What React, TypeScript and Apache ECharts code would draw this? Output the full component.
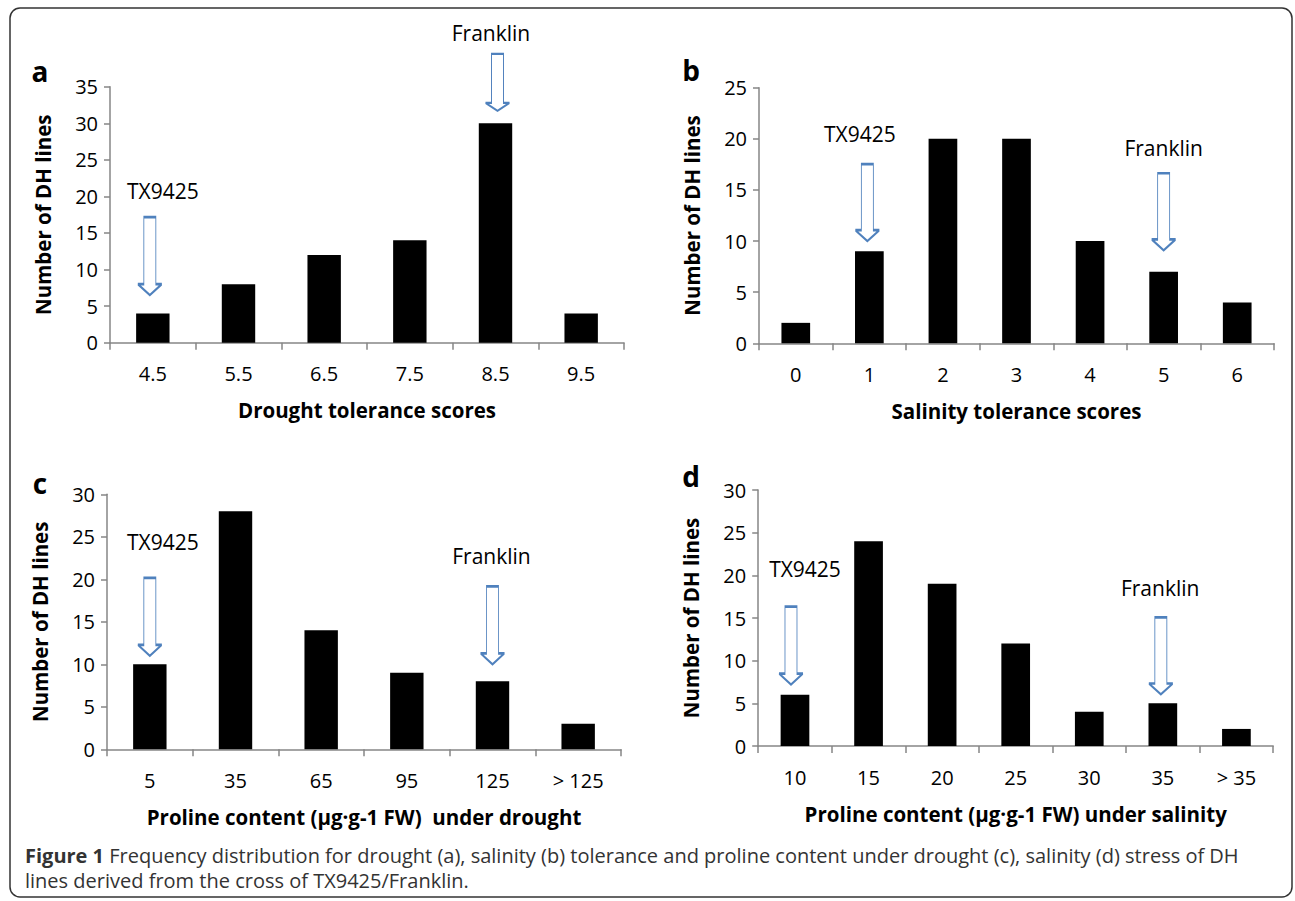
import React, { useEffect, useRef } from "react";
import * as echarts from "echarts";

const FONT = "'Open Sans', Lato, sans-serif";

// ---- Data ----
const catsA = ["4.5", "5.5", "6.5", "7.5", "8.5", "9.5"];
const valsA = [4, 8, 12, 14, 30, 4];
const catsB = ["0", "1", "2", "3", "4", "5", "6"];
const valsB = [2, 9, 20, 20, 10, 7, 4];
const catsC = ["5", "35", "65", "95", "125", "> 125"];
const valsC = [10, 28, 14, 9, 8, 3];
const catsD = ["10", "15", "20", "25", "30", "35", "> 35"];
const valsD = [6, 24, 19, 12, 4, 5, 2];

const yMaxes = [35, 25, 30, 30];
const xTitles = [
  "Drought tolerance scores",
  "Salinity tolerance scores",
  "Proline content (µg·g-1 FW)  under drought",
  "Proline content (µg·g-1 FW) under salinity",
];
const yTitle = "Number of DH lines";
const panelLetters = ["a", "b", "c", "d"];

// Annotation arrows: [category index, value at arrow tip]
const arrowNames = ["TX9425", "Franklin"];
const arrowIdxA = [0, 4];
const arrowTipA = [6.5, 31.7];
const arrowIdxB = [1, 5];
const arrowTipB = [10.0, 9.1];
const arrowIdxC = [0, 4];
const arrowTipC = [11.0, 10.0];
const arrowIdxD = [0, 5];
const arrowTipD = [7.2, 6.05];

const caption1 =
  " Frequency distribution for drought (a), salinity (b) tolerance and proline content under drought (c), salinity (d) stress of DH";
const caption2 = "lines derived from the cross of TX9425/Franklin.";

// ---- Layout (styles/positions) ----
const grids = [
  { left: 110, top: 86.7, width: 514, height: 256 },
  { left: 759, top: 87.7, width: 515, height: 255.6 },
  { left: 107, top: 494.3, width: 514, height: 255 },
  { left: 758.2, top: 490, width: 515, height: 256 },
];
const arrowLen = [
  [78, 57],
  [77, 77],
  [78, 78],
  [78, 77],
];
const arrowDx = [
  [-3, 2],
  [-2, 0],
  [0, 0],
  [-4, -2],
];
const labelGap = [
  [25, 20],
  [29, 24],
  [34, 29],
  [36, 28],
];
const labelDx = [
  [10, -4.5],
  [-9.5, 0],
  [13, -1],
  [10, -2.7],
];
const letterPos = [
  [40, 71],
  [691, 70],
  [40, 483],
  [691, 476],
];

const ARROW_PATH = "path://M6,0 L18,0 L18,67 L24,67 L12,78 L0,67 L6,67 Z";
const AXIS_COLOR = "#868686";
const TICK_FS = 20;
const TITLE_FS = 20.5;
const NOTE_FS = 21;
const CAP_FS = 20;

export default function App() {
  const ref = useRef<HTMLDivElement>(null);

  useEffect(() => {
    if (!ref.current) return;
    const chart = echarts.init(ref.current, null, { renderer: "svg" });

    const cats = [catsA, catsB, catsC, catsD];
    const vals = [valsA, valsB, valsC, valsD];
    const aIdx = [arrowIdxA, arrowIdxB, arrowIdxC, arrowIdxD];
    const aTip = [arrowTipA, arrowTipB, arrowTipC, arrowTipD];

    const option: any = {
      animation: false,
      backgroundColor: "#fff",
      grid: grids.map((g) => ({ ...g, containLabel: false })),
      xAxis: cats.map((c, i) => ({
        type: "category",
        gridIndex: i,
        data: c,
        name: xTitles[i],
        nameLocation: "middle",
        nameGap: 57,
        nameTextStyle: { fontFamily: FONT, fontWeight: "bold", fontSize: TITLE_FS, color: "#000" },
        axisLine: { show: true, lineStyle: { color: AXIS_COLOR, width: 1.5 } },
        axisTick: { show: true, length: 7, lineStyle: { color: AXIS_COLOR, width: 1.5 } },
        axisLabel: { margin: 21, fontSize: TICK_FS, color: "#000", fontFamily: FONT, interval: 0 },
        splitLine: { show: false },
      })),
      yAxis: yMaxes.map((m, i) => ({
        type: "value",
        gridIndex: i,
        min: 0,
        max: m,
        interval: 5,
        name: yTitle,
        nameLocation: "middle",
        nameGap: 57,
        nameTextStyle: { fontFamily: FONT, fontWeight: "bold", fontSize: TITLE_FS, color: "#000" },
        axisLine: { show: true, lineStyle: { color: AXIS_COLOR, width: 1.5 } },
        axisTick: { show: true, length: 6, lineStyle: { color: AXIS_COLOR, width: 1.5 } },
        axisLabel: { margin: 12, fontSize: TICK_FS, color: "#000", fontFamily: FONT },
        splitLine: { show: false },
      })),
      series: vals.map((v, i) => ({
        type: "bar",
        xAxisIndex: i,
        yAxisIndex: i,
        data: v,
        barWidth: "39%",
        silent: true,
        itemStyle: { color: "#000" },
        markPoint: {
          silent: true,
          data: aIdx[i].map((ci, k) => ({
            name: arrowNames[k],
            coord: [ci, aTip[i][k]],
            symbol: ARROW_PATH,
            symbolKeepAspect: false,
            symbolSize: [24, arrowLen[i][k]],
            symbolOffset: [arrowDx[i][k], -arrowLen[i][k] / 2],
            itemStyle: { color: "#fff", borderColor: "#4F81BD", borderWidth: 1.5 },
            label: {
              show: true,
              position: "top",
              distance: 0,
              offset: [labelDx[i][k] - arrowDx[i][k], -(labelGap[i][k] - 10.5)],
              formatter: arrowNames[k],
              color: "#000",
              fontSize: NOTE_FS,
              fontFamily: FONT,
            },
          })),
        },
      })),
      graphic: [
        {
          type: "rect",
          shape: { x: 10, y: 8, width: 1282, height: 889, r: 10 },
          style: { fill: "none", stroke: "#333", lineWidth: 1.5 },
          silent: true,
        },
        ...panelLetters.map((l, i) => ({
          type: "text",
          x: letterPos[i][0],
          y: letterPos[i][1],
          style: {
            text: l,
            fontFamily: FONT,
            fontWeight: "bold",
            fontSize: 28,
            fill: "#000",
            align: "center",
            verticalAlign: "middle",
          },
          silent: true,
        })),
        {
          type: "text",
          x: 25,
          y: 855,
          style: {
            text: "{b|Figure 1}{r|" + caption1 + "}",
            verticalAlign: "middle",
            rich: {
              b: { fontFamily: FONT, fontWeight: "bold", fontSize: CAP_FS, fill: "#333" },
              r: { fontFamily: FONT, fontSize: CAP_FS, fill: "#333" },
            },
          },
          silent: true,
        },
        {
          type: "text",
          x: 25,
          y: 880,
          style: {
            text: caption2,
            fontFamily: FONT,
            fontSize: CAP_FS,
            fill: "#333",
            verticalAlign: "middle",
          },
          silent: true,
        },
      ],
    };

    chart.setOption(option);
    return () => chart.dispose();
  }, []);

  return (
    <div
      ref={ref}
      style={{ position: "absolute", left: 0, top: 0, width: 1295, height: 901, background: "#fff" }}
    />
  );
}
